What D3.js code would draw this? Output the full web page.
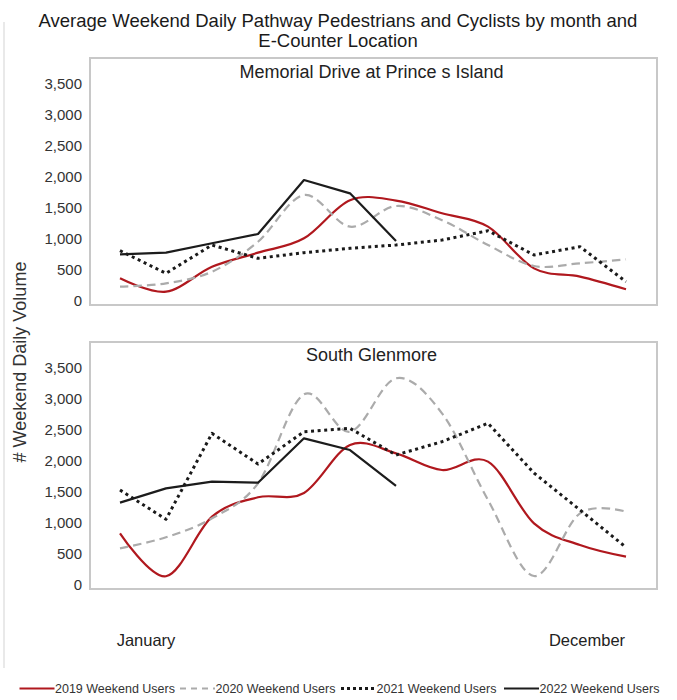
<!DOCTYPE html>
<html>
<head>
<meta charset="utf-8">
<script src="https://cdn.jsdelivr.net/npm/d3@7/dist/d3.min.js"></script>
<style>
  html, body { margin: 0; padding: 0; background: #fff; }
  svg { display: block; font-family: "Liberation Sans", Arial, sans-serif; }
</style>
</head>
<body>
<svg id="chart" width="677" height="700"></svg>
<script>
// ---- data ----
const months = ["January","February","March","April","May","June","July","August","September","October","November","December"];
const yTicks = [0, 500, 1000, 1500, 2000, 2500, 3000, 3500];
const seriesNames = ["2019 Weekend Users", "2020 Weekend Users", "2021 Weekend Users", "2022 Weekend Users"];
const panelTitles = ["Memorial Drive at Prince s Island", "South Glenmore"];
const edgeMonthLabels = ["January", "December"];

// Memorial Drive at Prince's Island
const memorial2019 = [365, 150, 550, 777, 1008, 1620, 1615, 1410, 1195, 525, 391, 188];
const memorial2020 = [230, 284, 471, 953, 1704, 1195, 1527, 1300, 900, 563, 606, 670];
const memorial2021 = [809, 445, 900, 686, 777, 847, 900, 980, 1130, 740, 873, 310];
const memorial2022 = [751, 777, 928, 1077, 1945, 1731, 965];

// South Glenmore
const glenmore2019 = [831, 140, 1098, 1410, 1480, 2251, 2117, 1849, 1983, 991, 643, 455];
const glenmore2020 = [590, 767, 1072, 1635, 3066, 2465, 3323, 2760, 1367, 145, 1152, 1179];
const glenmore2021 = [1527, 1056, 2438, 1945, 2465, 2519, 2090, 2304, 2600, 1800, 1206, 606];
const glenmore2022 = [1324, 1554, 1661, 1645, 2358, 2170, 1592];

// ---- styles ----
const styles = [
  { color: "#b0181e", width: 2.2, dash: null, smooth: true },
  { color: "#ababab", width: 2.2, dash: "8.5,5", smooth: true },
  { color: "#1a1a1a", width: 3, dash: "3,3.6", smooth: false },
  { color: "#1c1c1c", width: 2.2, dash: null, smooth: false }
];

const svg = d3.select("#chart");

// faint page edge
svg.append("line").attr("x1", 4).attr("x2", 4).attr("y1", 22).attr("y2", 668)
  .attr("stroke", "#e2e2e2").attr("stroke-width", 1.5);

// title
const title = svg.append("text").attr("text-anchor", "middle")
  .attr("font-size", 18.5).attr("fill", "#1a1a1a");
title.append("tspan").attr("x", 338).attr("y", 27).text("Average Weekend Daily Pathway Pedestrians and Cyclists by month and");
title.append("tspan").attr("x", 338).attr("y", 47).text("E-Counter Location");

// y label
svg.append("text")
  .attr("transform", "translate(26,362) rotate(-90)")
  .attr("text-anchor", "middle")
  .attr("font-size", 18).attr("fill", "#333")
  .text("# Weekend Daily Volume");

const x = d3.scalePoint().domain(months).range([120, 626]);

const panels = [
  { title: panelTitles[0], data: [memorial2019, memorial2020, memorial2021, memorial2022],
    frame: [90, 58, 657, 305], y0: 301, y3500: 83.3, titleY: 78 },
  { title: panelTitles[1], data: [glenmore2019, glenmore2020, glenmore2021, glenmore2022],
    frame: [90, 342, 657, 589], y0: 585, y3500: 367.3, titleY: 361 }
];

panels.forEach(p => {
  const y = d3.scaleLinear().domain([0, 3500]).range([p.y0, p.y3500]);
  const g = svg.append("g");
  const [fx0, fy0, fx1, fy1] = p.frame;
  g.append("rect").attr("x", fx0).attr("y", fy0).attr("width", fx1 - fx0).attr("height", fy1 - fy0)
    .attr("fill", "#fff").attr("stroke", "#c8c8c8").attr("stroke-width", 2);

  // y axis (labels only)
  const axis = d3.axisLeft(y).tickValues(yTicks).tickSize(0).tickPadding(0)
    .tickFormat(d3.format(","));
  const ax = g.append("g").attr("transform", "translate(82,0)").call(axis);
  ax.select(".domain").remove();
  ax.selectAll("text").attr("font-size", 15).attr("fill", "#333")
    .attr("font-family", "'Liberation Sans', Arial, sans-serif");

  g.append("text").attr("x", (fx0 + fx1) / 2 - 2).attr("y", p.titleY)
    .attr("text-anchor", "middle").attr("font-size", 18).attr("fill", "#222")
    .text(p.title);

  p.data.forEach((vals, i) => {
    const st = styles[i];
    const line = d3.line()
      .x((d, j) => x(months[j]))
      .y(d => y(d))
      .curve(st.smooth ? d3.curveCardinal.tension(0) : d3.curveLinear);
    const path = g.append("path").datum(vals)
      .attr("d", line)
      .attr("fill", "none")
      .attr("stroke", st.color)
      .attr("stroke-width", st.width)
      .attr("stroke-linejoin", "round");
    if (st.dash) path.attr("stroke-dasharray", st.dash);
  });
});

// month edge labels
svg.append("text").attr("x", x(edgeMonthLabels[0]) + 26).attr("y", 646)
  .attr("text-anchor", "middle").attr("font-size", 16.5).attr("fill", "#222").text(edgeMonthLabels[0]);
svg.append("text").attr("x", x(edgeMonthLabels[1]) - 39).attr("y", 646)
  .attr("text-anchor", "middle").attr("font-size", 16.5).attr("fill", "#222").text(edgeMonthLabels[1]);

// legend
const legendX = [19.5, 180, 341, 504];
const leg = svg.append("g");
seriesNames.forEach((name, i) => {
  const st = styles[i];
  const lx = legendX[i];
  const l = leg.append("line").attr("x1", lx).attr("x2", lx + 35).attr("y1", 688.5).attr("y2", 688.5)
    .attr("stroke", st.color).attr("stroke-width", i === 2 ? 3 : 2);
  if (st.dash) l.attr("stroke-dasharray", i === 1 ? "6,5" : "3,3");
  leg.append("text").attr("x", lx + 35.5).attr("y", 693).attr("font-size", 12.5).attr("fill", "#333")
    .text(name);
});
</script>
</body>
</html>
